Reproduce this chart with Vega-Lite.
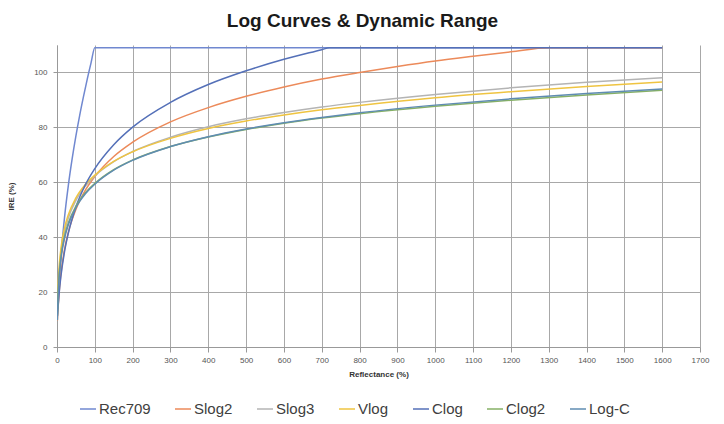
{
  "$schema": "https://vega.github.io/schema/vega-lite/v6.json",
  "width": 643,
  "height": 302,
  "autosize": {"type": "none"},
  "padding": {"left": 57, "top": 45, "right": 24, "bottom": 77},
  "background": "white",
  "title": {"text": "Log Curves & Dynamic Range", "anchor": "middle", "frame": "group", "dx": -16, "offset": 14, "font": "Liberation Sans", "fontSize": 19, "fontWeight": "bold", "color": "#1a1a1a"},
  "config": {"view": {"stroke": null}},
  "data": {"values": [
    {"s":"Rec709","x":3,"y":13.9},{"s":"Rec709","x":5,"y":20.3},{"s":"Rec709","x":10,"y":31.7},{"s":"Rec709","x":20,"y":47.3},{"s":"Rec709","x":30,"y":58.9},{"s":"Rec709","x":40,"y":68.5},{"s":"Rec709","x":50,"y":76.9},{"s":"Rec709","x":60,"y":84.4},{"s":"Rec709","x":70,"y":91.2},{"s":"Rec709","x":80,"y":97.6},{"s":"Rec709","x":90,"y":103.5},{"s":"Rec709","x":100,"y":109},{"s":"Rec709","x":1600,"y":109},
    {"s":"Slog2","x":1,"y":9.7},{"s":"Slog2","x":2,"y":12.4},{"s":"Slog2","x":5,"y":18.8},{"s":"Slog2","x":10,"y":26.2},{"s":"Slog2","x":20,"y":35.6},{"s":"Slog2","x":30,"y":41.8},{"s":"Slog2","x":50,"y":50.1},{"s":"Slog2","x":75,"y":57.1},{"s":"Slog2","x":100,"y":62.1},{"s":"Slog2","x":150,"y":69.4},{"s":"Slog2","x":200,"y":74.6},{"s":"Slog2","x":300,"y":82.0},{"s":"Slog2","x":400,"y":87.2},{"s":"Slog2","x":500,"y":91.3},{"s":"Slog2","x":600,"y":94.7},{"s":"Slog2","x":700,"y":97.6},{"s":"Slog2","x":800,"y":100.0},{"s":"Slog2","x":900,"y":102.2},{"s":"Slog2","x":1000,"y":104.2},{"s":"Slog2","x":1100,"y":105.9},{"s":"Slog2","x":1200,"y":107.5},{"s":"Slog2","x":1300,"y":109},{"s":"Slog2","x":1600,"y":109},
    {"s":"Slog3","x":1,"y":11.3},{"s":"Slog3","x":2,"y":16.7},{"s":"Slog3","x":5,"y":25.7},{"s":"Slog3","x":10,"y":33.6},{"s":"Slog3","x":20,"y":41.9},{"s":"Slog3","x":30,"y":47.0},{"s":"Slog3","x":50,"y":53.4},{"s":"Slog3","x":75,"y":58.6},{"s":"Slog3","x":100,"y":62.3},{"s":"Slog3","x":150,"y":67.5},{"s":"Slog3","x":200,"y":71.2},{"s":"Slog3","x":300,"y":76.4},{"s":"Slog3","x":400,"y":80.2},{"s":"Slog3","x":500,"y":83.1},{"s":"Slog3","x":600,"y":85.4},{"s":"Slog3","x":700,"y":87.4},{"s":"Slog3","x":800,"y":89.1},{"s":"Slog3","x":1000,"y":92.0},{"s":"Slog3","x":1200,"y":94.4},{"s":"Slog3","x":1400,"y":96.4},{"s":"Slog3","x":1600,"y":98.1},
    {"s":"Vlog","x":1,"y":13.8},{"s":"Vlog","x":2,"y":19.1},{"s":"Vlog","x":5,"y":27.8},{"s":"Vlog","x":10,"y":35.4},{"s":"Vlog","x":20,"y":43.4},{"s":"Vlog","x":30,"y":48.2},{"s":"Vlog","x":50,"y":54.3},{"s":"Vlog","x":75,"y":59.2},{"s":"Vlog","x":100,"y":62.6},{"s":"Vlog","x":150,"y":67.6},{"s":"Vlog","x":200,"y":71.1},{"s":"Vlog","x":300,"y":76.0},{"s":"Vlog","x":400,"y":79.6},{"s":"Vlog","x":500,"y":82.3},{"s":"Vlog","x":600,"y":84.5},{"s":"Vlog","x":700,"y":86.4},{"s":"Vlog","x":800,"y":88.0},{"s":"Vlog","x":1000,"y":90.8},{"s":"Vlog","x":1200,"y":93.0},{"s":"Vlog","x":1400,"y":94.9},{"s":"Vlog","x":1600,"y":96.5},
    {"s":"Clog","x":1,"y":11.3},{"s":"Clog","x":2,"y":13.4},{"s":"Clog","x":5,"y":18.6},{"s":"Clog","x":10,"y":25.4},{"s":"Clog","x":20,"y":34.8},{"s":"Clog","x":30,"y":41.5},{"s":"Clog","x":50,"y":51.0},{"s":"Clog","x":75,"y":59.1},{"s":"Clog","x":100,"y":65.0},{"s":"Clog","x":150,"y":73.7},{"s":"Clog","x":200,"y":80.1},{"s":"Clog","x":300,"y":89.1},{"s":"Clog","x":400,"y":95.6},{"s":"Clog","x":500,"y":100.6},{"s":"Clog","x":600,"y":104.8},{"s":"Clog","x":700,"y":108.3},{"s":"Clog","x":720,"y":109},{"s":"Clog","x":1600,"y":109},
    {"s":"Clog2","x":1,"y":11.8},{"s":"Clog2","x":2,"y":16.7},{"s":"Clog2","x":5,"y":25.1},{"s":"Clog2","x":10,"y":32.5},{"s":"Clog2","x":20,"y":40.4},{"s":"Clog2","x":30,"y":45.2},{"s":"Clog2","x":50,"y":51.3},{"s":"Clog2","x":75,"y":56.2},{"s":"Clog2","x":100,"y":59.6},{"s":"Clog2","x":150,"y":64.6},{"s":"Clog2","x":200,"y":68.1},{"s":"Clog2","x":300,"y":73.0},{"s":"Clog2","x":400,"y":76.5},{"s":"Clog2","x":500,"y":79.2},{"s":"Clog2","x":600,"y":81.5},{"s":"Clog2","x":700,"y":83.4},{"s":"Clog2","x":800,"y":85.0},{"s":"Clog2","x":1000,"y":87.7},{"s":"Clog2","x":1200,"y":89.9},{"s":"Clog2","x":1400,"y":91.8},{"s":"Clog2","x":1600,"y":93.5},
    {"s":"Log-C","x":1,"y":9.8},{"s":"Log-C","x":2,"y":15.0},{"s":"Log-C","x":5,"y":23.8},{"s":"Log-C","x":10,"y":31.5},{"s":"Log-C","x":20,"y":39.6},{"s":"Log-C","x":30,"y":44.5},{"s":"Log-C","x":50,"y":50.8},{"s":"Log-C","x":75,"y":55.8},{"s":"Log-C","x":100,"y":59.3},{"s":"Log-C","x":150,"y":64.4},{"s":"Log-C","x":200,"y":68.0},{"s":"Log-C","x":300,"y":73.0},{"s":"Log-C","x":400,"y":76.6},{"s":"Log-C","x":500,"y":79.4},{"s":"Log-C","x":600,"y":81.7},{"s":"Log-C","x":700,"y":83.6},{"s":"Log-C","x":800,"y":85.3},{"s":"Log-C","x":1000,"y":88.1},{"s":"Log-C","x":1200,"y":90.4},{"s":"Log-C","x":1400,"y":92.3},{"s":"Log-C","x":1600,"y":94.0}
  ]},
  "mark": {"type": "line", "interpolate": "monotone", "strokeWidth": 1.5, "clip": true},
  "encoding": {
    "x": {"field": "x", "type": "quantitative", "scale": {"domain": [0, 1700], "nice": false},
      "axis": {"title": "Reflectance (%)", "values": [0,100,200,300,400,500,600,700,800,900,1000,1100,1200,1300,1400,1500,1600,1700], "format": "d",
        "labelFont": "Liberation Sans", "labelFontSize": 8, "labelColor": "#555555", "labelPadding": 4, "labelFlush": false,
        "titleFont": "Liberation Sans", "titleFontSize": 8, "titleFontWeight": "bold", "titleColor": "#333333", "titlePadding": 6,
        "domainColor": "#999999", "tickColor": "#999999", "tickSize": 5, "gridColor": "#a8a8a8", "gridWidth": 1}},
    "y": {"field": "y", "type": "quantitative", "scale": {"domain": [0, 110], "nice": false},
      "axis": {"title": "IRE (%)", "values": [0,20,40,60,80,100],
        "labelFont": "Liberation Sans", "labelFontSize": 8, "labelColor": "#555555", "labelPadding": 6,
        "titleFont": "Liberation Sans", "titleFontSize": 8, "titleFontWeight": "bold", "titleColor": "#333333", "titlePadding": 18,
        "domainColor": "#999999", "tickColor": "#999999", "tickSize": 4, "gridColor": "#a8a8a8", "gridWidth": 1}},
    "color": {"field": "s", "type": "nominal", "sort": ["Rec709","Slog2","Slog3","Vlog","Clog","Clog2","Log-C"],
      "scale": {"domain": ["Rec709","Slog2","Slog3","Vlog","Clog","Clog2","Log-C"], "range": ["#7088d0","#ec8a5a","#b4b4b4","#efc441","#5470b8","#86b066","#5f8cb2"]},
      "legend": {"title": null, "orient": "none", "legendX": 22, "legendY": 355, "direction": "horizontal", "symbolType": "stroke", "symbolSize": 256, "symbolStrokeWidth": 1.5,
        "labelFont": "Liberation Sans", "labelFontSize": 15, "labelColor": "#404040", "labelOffset": 2, "columnPadding": 21}}
  }
}
